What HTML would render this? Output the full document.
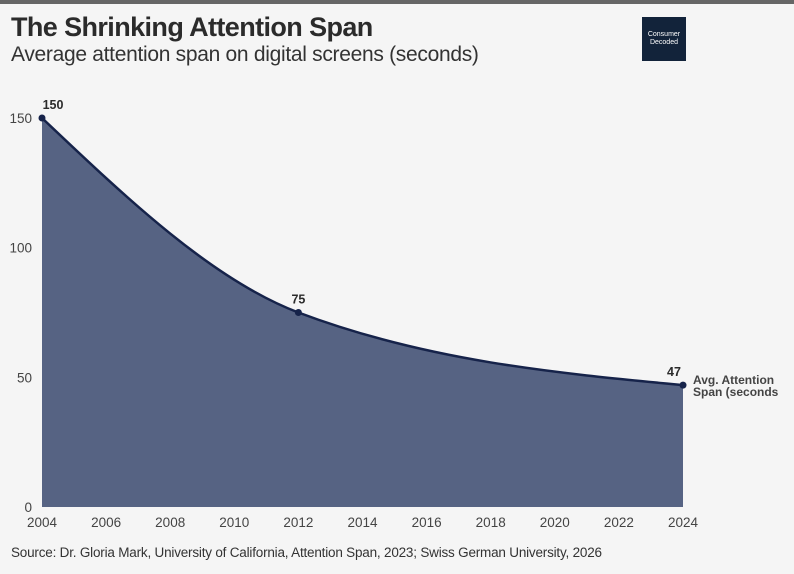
<!DOCTYPE html>
<html><head><meta charset="utf-8">
<style>
html,body{margin:0;padding:0;background:#f5f5f5;}
body{width:794px;height:574px;position:relative;overflow:hidden;font-family:"Liberation Sans",sans-serif;}
.bar{position:absolute;left:0;top:0;width:794px;height:4px;background:#666;}
.title{position:absolute;left:11px;top:12px;font-size:27px;font-weight:bold;color:#2b2b2b;letter-spacing:-0.6px;}
.sub{position:absolute;left:11px;top:43px;font-size:21px;color:#333;letter-spacing:-0.3px;}
.logo{position:absolute;left:642px;top:17px;width:44px;height:44px;background:#12233a;color:#fff;font-size:7px;line-height:8px;text-align:center;display:flex;align-items:center;justify-content:center;}
.src{position:absolute;left:11px;top:545px;font-size:13.5px;color:#333;letter-spacing:-0.2px;}
svg{position:absolute;left:0;top:0;}
</style></head><body>
<div class="bar"></div>
<div class="title">The Shrinking Attention Span</div>
<div class="sub">Average attention span on digital screens (seconds)</div>
<div class="logo"><div>Consumer<br>Decoded</div></div>
<div class="src">Source: Dr. Gloria Mark, University of California, Attention Span, 2023; Swiss German University, 2026</div>
<svg id="chart" width="794" height="574"></svg>
<script>
const years=[2004,2012,2024];
const values=[150,75,47];
const xTicks=[2004,2006,2008,2010,2012,2014,2016,2018,2020,2022,2024];
const yTicks=[0,50,100,150];
const seriesName="Avg. Attention";
const seriesName2="Span (seconds";
const NS="http://www.w3.org/2000/svg";
const svg=document.getElementById('chart');
const X=v=>42+(v-2004)*(683-42)/20;
const Y=v=>507-v*(507-118)/150;
function mk(t,a,p){const e=document.createElementNS(NS,t);for(const k in a)e.setAttribute(k,a[k]);(p||svg).appendChild(e);return e;}
const px=years.map(X),py=values.map(Y),n=px.length;
const d=[],m=[];
for(let i=0;i<n-1;i++)d.push((py[i+1]-py[i])/(px[i+1]-px[i]));
for(let i=0;i<n;i++){
 if(i===0)m.push(null);else if(i===n-1)m.push(null);
 else{const s0=d[i-1],s1=d[i],h0=px[i]-px[i-1],h1=px[i+1]-px[i];
  const p=(s0*h1+s1*h0)/(h0+h1);
  m.push(s0*s1<=0?0:(Math.sign(s0)+Math.sign(s1))*Math.min(Math.abs(s0),Math.abs(s1),0.5*Math.abs(p)));}
}
m[0]=(3*d[0]-m[1])/2; m[n-1]=(3*d[n-2]-m[n-2])/2;
let path=`M${px[0]},${py[0]}`;
for(let i=0;i<n-1;i++){const h=(px[i+1]-px[i])/3;
 path+=` C${px[i]+h},${py[i]+m[i]*h} ${px[i+1]-h},${py[i+1]-m[i+1]*h} ${px[i+1]},${py[i+1]}`;}
const area=mk('path',{d:path+` L${px[n-1]},${Y(0)} L${px[0]},${Y(0)} Z`,fill:'#566383'});

const line=mk('path',{d:path,fill:'none',stroke:'#16234a','stroke-width':2.5});

yTicks.forEach(v=>{const t=mk('text',{x:32,y:Y(v)+5,'text-anchor':'end','font-size':13.5,fill:'#444'});t.textContent=v;
 });
xTicks.forEach(v=>{const t=mk('text',{x:X(v),y:527,'text-anchor':'middle','font-size':13.5,fill:'#444'});t.textContent=v;
 });
years.forEach((yr,i)=>{const c=mk('circle',{cx:X(yr),cy:Y(values[i]),r:3.5,fill:'#16234a'});
 
 const last=i===n-1;
 const t=mk('text',{x:X(yr)+(i===0?11:(last?-9:0)),y:Y(values[i])-9,'text-anchor':'middle','font-size':12.5,'font-weight':'bold',fill:'#2b2b2b'});t.textContent=values[i];
 });
const ly=Y(values[n-1]);
const l1=mk('text',{x:X(years[n-1])+10,y:ly-1,'font-size':12,'font-weight':'bold',fill:'#444'});l1.textContent=seriesName;

const l2=mk('text',{x:X(years[n-1])+10,y:ly+11,'font-size':12,'font-weight':'bold',fill:'#444'});l2.textContent=seriesName2;

</script>
</body></html>
